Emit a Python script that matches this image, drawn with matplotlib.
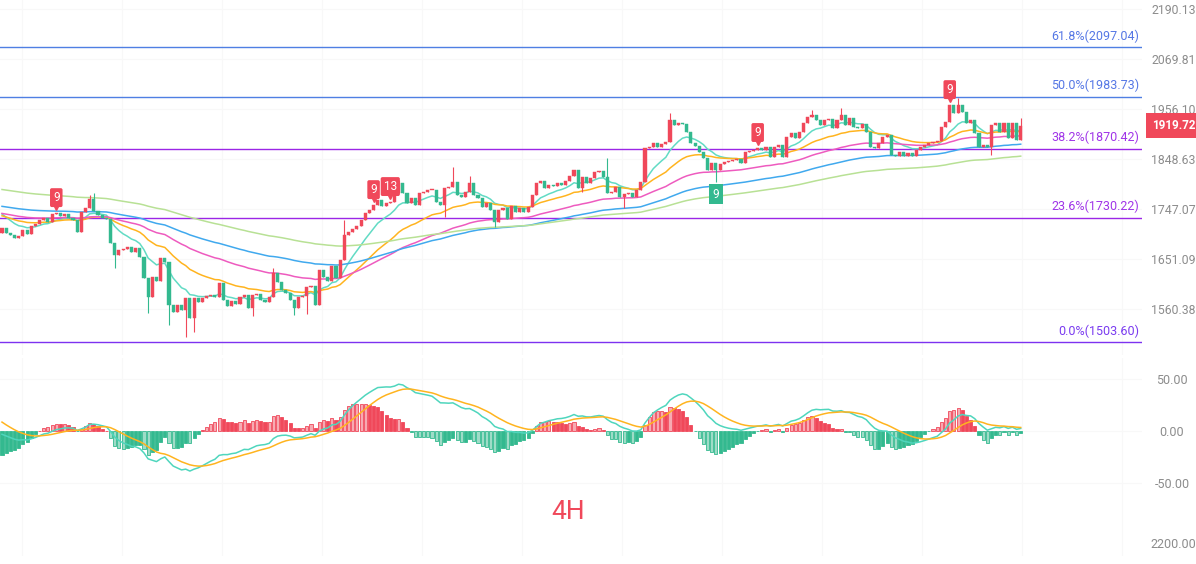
import numpy as np
import matplotlib
matplotlib.use("Agg")
import matplotlib.pyplot as plt
from matplotlib.ticker import FixedLocator, NullLocator
from matplotlib.transforms import blended_transform_factory, offset_copy

plt.rcParams['font.family'] = ['Roboto', 'DejaVu Sans']

# ---- data (4H candles) ----
closes = [
    1710.6, 1701.0, 1697.2, 1691.4, 1695.3, 1706.8, 1699.1, 1714.5, 1718.3, 1726.0,
    1729.8, 1722.1, 1737.5, 1739.4, 1733.7, 1737.5, 1729.8, 1726.0, 1702.9, 1741.3,
    1749.1, 1767.4, 1743.3, 1735.6, 1729.8, 1727.9, 1681.8, 1658.8, 1668.4, 1670.3,
    1674.1, 1664.5, 1672.2, 1654.9, 1616.6, 1582.2, 1618.4, 1611.2, 1653.0, 1645.7,
    1567.7, 1555.2, 1567.7, 1558.7, 1580.4, 1544.9, 1580.4, 1573.2, 1580.4, 1584.0,
    1585.8, 1582.2, 1607.6, 1576.7, 1565.8, 1574.9, 1569.5, 1582.2, 1585.8, 1562.2,
    1585.8, 1587.6, 1576.7, 1573.2, 1582.2, 1625.7, 1609.4, 1594.9, 1589.4, 1576.7,
    1562.2, 1582.2, 1584.0, 1600.3, 1602.1, 1567.7, 1631.1, 1618.4, 1611.2, 1638.4,
    1616.6, 1649.3, 1697.2, 1702.9, 1708.7, 1714.5, 1726.0, 1739.4, 1745.2, 1755.2,
    1765.3, 1753.1, 1759.2, 1761.3, 1779.5, 1799.9, 1779.5, 1759.2, 1769.4, 1755.2,
    1779.5, 1781.6, 1785.6, 1785.6, 1761.3, 1755.2, 1789.7, 1791.7, 1801.9, 1775.5,
    1771.4, 1781.6, 1799.9, 1775.5, 1769.4, 1751.1, 1759.2, 1745.2, 1722.1, 1745.2,
    1749.1, 1727.9, 1753.1, 1741.3, 1749.1, 1741.3, 1751.1, 1775.5, 1799.9, 1803.9,
    1789.7, 1795.8, 1793.8, 1799.9, 1795.8, 1803.9, 1814.1, 1826.3, 1789.7, 1812.0,
    1799.9, 1810.0, 1822.2, 1824.2, 1812.0, 1779.5, 1781.6, 1791.7, 1771.4, 1777.5,
    1779.5, 1771.4, 1785.6, 1801.9, 1872.2, 1874.4, 1883.0, 1874.4, 1880.8, 1885.1,
    1932.4, 1921.7, 1926.0, 1923.8, 1906.6, 1883.0, 1876.5, 1863.6, 1850.7, 1826.3,
    1840.5, 1826.3, 1838.4, 1842.5, 1844.5, 1846.6, 1848.6, 1840.5, 1863.6, 1865.8,
    1867.9, 1872.2, 1867.9, 1874.4, 1852.9, 1874.4, 1878.7, 1852.9, 1895.9, 1904.5,
    1893.8, 1906.6, 1926.0, 1938.9, 1943.2, 1932.4, 1921.7, 1932.4, 1934.6, 1915.3,
    1932.4, 1943.2, 1921.7, 1936.7, 1917.4, 1915.3, 1923.8, 1906.6, 1874.4, 1872.2,
    1883.0, 1895.9, 1900.2, 1857.2, 1855.0, 1863.6, 1855.0, 1861.5, 1855.0, 1867.9,
    1874.4, 1878.7, 1883.0, 1885.1, 1887.3, 1917.4, 1928.1, 1965.2, 1947.5, 1965.2,
    1949.7, 1926.0, 1932.4, 1904.5, 1874.4, 1878.7, 1874.4, 1921.7, 1926.0, 1906.6,
    1926.0, 1893.8, 1926.0, 1889.5, 1919.72,
]
first_open = 1701.0
# visible wick extremes (candle index -> price)
wick_high = {21: 1775.5, 22: 1779.5, 65: 1634.8, 82: 1726.0, 95: 1806.0, 108: 1832.4,
             112: 1814.1, 145: 1850.7, 160: 1947.5, 194: 1953.9, 201: 1958.4,
             229: 1981.1, 244: 1936.7}
wick_low = {27: 1634.8, 35: 1553.5, 40: 1532.9, 44: 1512.2, 46: 1520.8, 60: 1548.4,
            70: 1550.1, 73: 1551.8, 106: 1731.7, 118: 1712.5, 139: 1781.6, 149: 1749.1,
            171: 1801.9, 237: 1857.2}

fib_names = ["61.8%", "50.0%", "38.2%", "23.6%", "0.0%"]
fib_prices = [2097.04, 1983.73, 1870.42, 1730.22, 1503.60]
price_ticks = [2190.13, 2069.81, 1956.10, 1848.63, 1747.07, 1651.09, 1560.38]
macd_ticks = [50, 0, -50]
last_price = 1919.72

# TD sequential counts: (candle index, text, above/below)
td_marks = [(13, "9", "up"), (89, "9", "up"), (93, "13", "up"),
            (181, "9", "up"), (227, "9", "up"), (171, "9", "down")]

ma_spans = [10, 26, 55, 90, 140]
ma_seeds = [1743.3, 1735.6, 1739.4, 1753.3, 1787.1]
macd_seeds = dict(fast=1727.0, slow=1729.0, signal=11.5)

# ---- style ----
UP = "#f0485a"
DOWN = "#33b98f"
UP_PALE = "#f7aab2"
DOWN_PALE = "#9edcc7"
MA_COLORS = ["#62dbc4", "#ffb41f", "#ee5bbf", "#40a9ee", "#b8e195"]
FIB_LINE = ["#4f7fe3", "#4f7fe3", "#9b26e6", "#9b26e6", "#7d32f0"]
FIB_TEXT = ["#5577e5", "#5577e5", "#a035e8", "#a035e8", "#7a3bf0"]
GRID = "#f8f8f8"
AXTXT = "#8c8c8c"


def ema(vals, span, seed):
    a = 2.0 / (span + 1)
    out = np.empty(len(vals))
    prev = seed
    for k, v in enumerate(vals):
        prev = prev + a * (v - prev)
        out[k] = prev
    return out


c = np.array(closes)
n = len(c)
idx = np.arange(n)
o = np.r_[first_open, c[:-1]]
body_top = np.maximum(o, c)
body_bot = np.minimum(o, c)
hi = body_top.copy()
lo = body_bot.copy()
for k, v in wick_high.items():
    hi[k] = v
for k, v in wick_low.items():
    lo[k] = v
up = c >= o
col = np.where(up, UP, DOWN)

W, H = 1196, 564
fig = plt.figure(figsize=(W / 100, H / 100), dpi=100)
plot_w = 1142 / W
ax = fig.add_axes([0, 1 - 355 / H, plot_w, 355 / H])
ax2 = fig.add_axes([0, 8 / H, plot_w, 198 / H])
xlim = (-0.48, 273.05)
grid_x = np.arange(4.79, 273, 23.95)

# ---- price panel ----
ax.set_yscale("log")
ax.set_ylim(1481.4, 2212.5)
ax.set_xlim(*xlim)
for gx in grid_x:
    ax.axvline(gx, color=GRID, lw=0.8, zorder=0)
for t in price_ticks:
    ax.axhline(t, color=GRID, lw=0.8, zorder=0)

for span, seed, mc in zip(ma_spans, ma_seeds, MA_COLORS):
    ax.plot(idx, ema(c, span, seed), color=mc, lw=1.1, zorder=2)

ax.vlines(idx, lo, hi, colors=col, lw=0.8, zorder=3)
ax.bar(idx, np.maximum(body_top - body_bot, 0.6), bottom=body_bot, width=0.74,
       color=col, edgecolor=col, lw=0.3, zorder=4)

bt = blended_transform_factory(ax.transAxes, ax.transData)
for name, p, lc, tc in zip(fib_names, fib_prices, FIB_LINE, FIB_TEXT):
    ax.axhline(p, color=lc, lw=1.0, zorder=1)
    ax.annotate(f"{name}({p:.2f})", xy=(1139 / 1142, p), xycoords=bt,
                xytext=(0, 3), textcoords="offset points", ha="right", va="bottom",
                fontsize=9, color=tc)

for k, txt, side in td_marks:
    if side == "up":
        ax.annotate(txt, xy=(k, hi[k]), xytext=(0, 11), textcoords="offset points",
                    ha="center", va="center", fontsize=8.5, color="white", zorder=6,
                    bbox=dict(boxstyle="round,pad=0.25,rounding_size=0.15", fc=UP, ec="none"))
        ax.plot(k, hi[k], marker="v", ms=4, color=UP, zorder=6,
                transform=offset_copy(ax.transData, fig=fig, y=4, units="points"))
    else:
        ax.annotate(txt, xy=(k, lo[k]), xytext=(0, -9), textcoords="offset points",
                    ha="center", va="center", fontsize=8.5, color="white", zorder=6,
                    bbox=dict(boxstyle="square,pad=0.3", fc=DOWN, ec="none"))

ax.yaxis.tick_right()
ax.yaxis.set_major_locator(FixedLocator(price_ticks))
ax.yaxis.set_minor_locator(NullLocator())
ax.set_yticklabels([f"{t:.2f}" for t in price_ticks])
ax.tick_params(axis="y", length=0, pad=6.5, labelsize=8.8, labelcolor=AXTXT)
ax.set_xticks([])
for s in ax.spines.values():
    s.set_visible(False)

ax.annotate(f"{last_price:.2f}", xy=(1.0, last_price), xycoords=bt,
            xytext=(7, 0), textcoords="offset points", ha="left", va="center",
            fontsize=8.4, fontweight="bold", color="white", annotation_clip=False,
            bbox=dict(boxstyle="square,pad=0.5", fc=UP, ec="none"))
ax.annotate("", xy=(1.0, last_price), xycoords=bt, xytext=(3, 0),
            textcoords="offset points", annotation_clip=False,
            arrowprops=dict(arrowstyle="-", color="white", lw=1.0))

# ---- MACD panel ----
ema_fast = ema(c, 12, macd_seeds["fast"])
ema_slow = ema(c, 26, macd_seeds["slow"])
dif = ema_fast - ema_slow
dea = ema(dif, 9, macd_seeds["signal"])
hist = 2 * (dif - dea)
prev = np.r_[hist[0], hist[:-1]]
growing = np.abs(hist) > np.abs(prev)
face = []
edge = []
for h, g in zip(hist, growing):
    base = UP if h >= 0 else DOWN
    pale = UP_PALE if h >= 0 else DOWN_PALE
    face.append(pale if g else base)
    edge.append(base)

ax2.set_ylim(-120.2, 70.2)
ax2.set_xlim(*xlim)
for gx in grid_x:
    ax2.axvline(gx, color=GRID, lw=0.8, zorder=0)
for t in macd_ticks:
    ax2.axhline(t, color=GRID, lw=0.8, zorder=0)
ax2.bar(idx, hist, width=0.74, color=face, edgecolor=edge, lw=0.6, zorder=2)
ax2.plot(idx, dif, color="#4fd6bd", lw=1.1, zorder=3)
ax2.plot(idx, dea, color="#ffb41f", lw=1.1, zorder=3)
ax2.yaxis.tick_right()
ax2.set_yticks(macd_ticks)
ax2.set_yticklabels([f"{t:.2f}" for t in macd_ticks])
ax2.tick_params(axis="y", length=0, pad=21.6, labelsize=9, labelcolor=AXTXT)
for lbl in ax2.get_yticklabels():
    lbl.set_horizontalalignment("center")
ax2.set_xticks([])
for s in ax2.spines.values():
    s.set_visible(False)

fig.text(1173 / W, 1 - 545 / H, "2200.00", ha="center", va="center", fontsize=9, color=AXTXT)
fig.text(568 / W, 1 - 512 / H, "4H", ha="center", va="center", fontsize=19, color=UP)

fig.savefig("out.png", dpi=100, facecolor="white")
